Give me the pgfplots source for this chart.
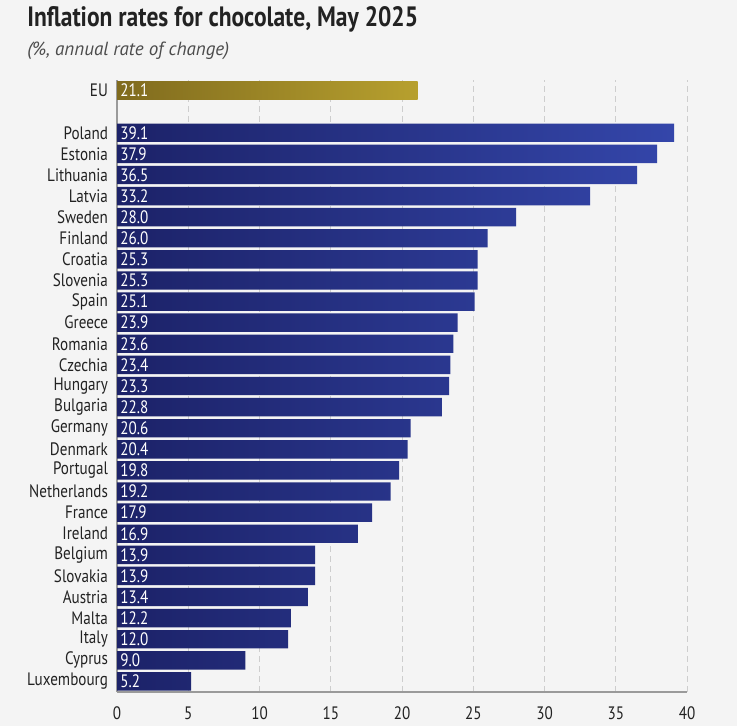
\documentclass[border=0pt]{standalone}
\usepackage{pgfplots}
\pgfplotsset{compat=1.18}
\usepackage{pgfplotstable}
\usepackage{fontspec}
\setmainfont{PT Sans}[FakeStretch=0.84]
\newfontfamily\subfont{PT Sans}
\definecolor{bgc}{HTML}{F4F4F4}
\definecolor{navyL}{HTML}{1C2268}
\definecolor{navyR}{HTML}{3446AA}
\definecolor{goldL}{HTML}{806B1E}
\definecolor{goldR}{HTML}{B7A02E}
\definecolor{txt}{HTML}{222222}
\definecolor{gridc}{HTML}{CDCDCD}
\definecolor{axc}{HTML}{9A9A9A}

\pgfplotstableread{
pos val
1 5.2
2 9.0
3 12.0
4 12.2
5 13.4
6 13.9
7 13.9
8 16.9
9 17.9
10 19.2
11 19.8
12 20.4
13 20.6
14 22.8
15 23.3
16 23.4
17 23.6
18 23.9
19 25.1
20 25.3
21 25.3
22 26.0
23 28.0
24 33.2
25 36.5
26 37.9
27 39.1
}\countries
\pgfplotstableread{
pos val
29 21.1
}\eu

\begin{document}
\begin{tikzpicture}
\useasboundingbox (-58.5pt,-17pt) rectangle (310pt,346pt);
\fill[bgc] (-58.5pt,-17pt) rectangle (310pt,346pt);
\node[anchor=base west, font=\bfseries\fontsize{14}{16}\selectfont, text=txt, inner sep=0pt] at (-45pt,332.5pt) {Inflation rates for chocolate, May 2025};
\node[anchor=base west, font=\subfont\itshape\fontsize{9.5}{11}\selectfont, text=black!70, inner sep=0pt] at (-45pt,318pt) {(\%, annual rate of change)};
\begin{axis}[
  at={(0,0)}, anchor=south west,
  scale only axis, width=285pt, height=306pt,
  xmin=0, xmax=40, ymin=0.5, ymax=29.5,
  xtick={0,5,...,40},
  ytick={1,...,27,29},
  yticklabels={Luxembourg,Cyprus,Italy,Malta,Austria,Slovakia,Belgium,Ireland,France,Netherlands,Portugal,Denmark,Germany,Bulgaria,Hungary,Czechia,Romania,Greece,Spain,Slovenia,Croatia,Finland,Sweden,Latvia,Lithuania,Estonia,Poland,EU},
  axis lines*=left,
  axis line style={-},
  x axis line style={draw=axc, line width=1.1pt},
  y axis line style={draw=axc, line width=0.7pt},
  xmajorgrids,
  major grid style={densely dashed, gridc, line width=0.4pt},
  major tick length=0pt,
  tick label style={font=\fontsize{9}{10}\selectfont, text=txt},
  xticklabel style={yshift=-4pt},
  yticklabel style={xshift=-1pt},
  /pgf/number format/assume math mode=true,
  clip=false,
]
\addplot[xbar, bar width=9.2pt, draw=none, left color=navyL, right color=navyR] table[x=val, y=pos] {\countries};
\addplot[xbar, bar width=9.2pt, draw=none, left color=goldL, right color=goldR] table[x=val, y=pos] {\eu};
\addplot[draw=none, mark=none, nodes near coords, point meta=explicit,
  every node near coord/.append style={anchor=west, text=white, inner sep=1.5pt, font=\fontsize{9}{10}\selectfont,
  /pgf/number format/fixed, /pgf/number format/fixed zerofill, /pgf/number format/precision=1}]
  table[x expr=0, y=pos, meta=val] {\countries};
\addplot[draw=none, mark=none, nodes near coords, point meta=explicit,
  every node near coord/.append style={anchor=west, text=white, inner sep=1.5pt, font=\fontsize{9}{10}\selectfont,
  /pgf/number format/fixed, /pgf/number format/fixed zerofill, /pgf/number format/precision=1}]
  table[x expr=0, y=pos, meta=val] {\eu};
\end{axis}
\end{tikzpicture}
\end{document}
